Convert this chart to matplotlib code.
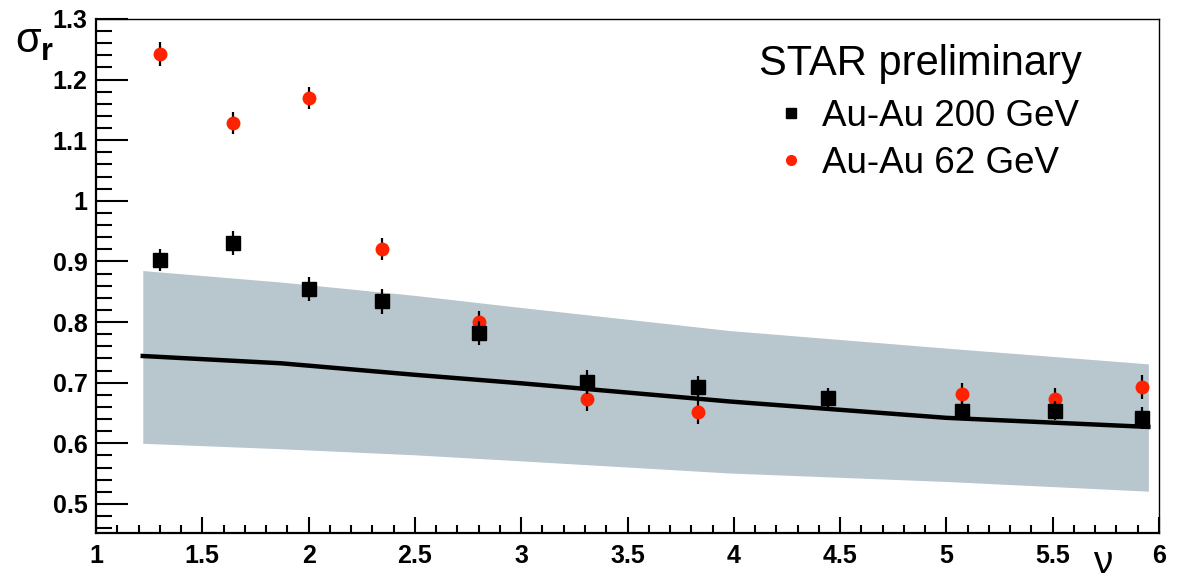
import numpy as np
import matplotlib.pyplot as plt
from matplotlib.ticker import MultipleLocator, FuncFormatter
from matplotlib.lines import Line2D

plt.rcParams['font.family'] = ['Liberation Sans', 'DejaVu Sans']

# measured points (nu, sigma_r, error)
nu = [1.30, 1.645, 2.0, 2.346, 2.80, 3.31, 3.83, 4.445, 5.075, 5.51, 5.92]
au200 = [0.903, 0.931, 0.854, 0.834, 0.782, 0.701, 0.693, 0.675, 0.654, 0.654, 0.642]
au200_err = [0.018, 0.02, 0.02, 0.02, 0.02, 0.02, 0.018, 0.016, 0.016, 0.016, 0.018]

nu62 = [1.30, 1.645, 2.0, 2.346, 2.80, 3.31, 3.83, 5.075, 5.51, 5.92]
au62 = [1.242, 1.129, 1.170, 0.921, 0.800, 0.673, 0.652, 0.681, 0.673, 0.693]
au62_err = [0.02, 0.018, 0.018, 0.018, 0.018, 0.02, 0.02, 0.018, 0.018, 0.02]

# model band and central curve
band_x = [1.22, 1.87, 2.5, 3.0, 3.98, 5.0, 5.95]
band_hi = [0.885, 0.866, 0.844, 0.824, 0.786, 0.757, 0.731]
band_lo = [0.600, 0.591, 0.581, 0.571, 0.551, 0.537, 0.521]
band_mid = [0.744, 0.732, 0.713, 0.699, 0.669, 0.642, 0.627]

fig = plt.figure(figsize=(11.8, 5.82), dpi=100)
ax = fig.add_axes([96/1180, 1-533/582, (1159-96)/1180, (533-19)/582])

ax.fill_between(band_x, band_lo, band_hi, color='#b8c6cd', lw=0, zorder=1)
ax.plot(band_x, band_mid, color='black', lw=3.2, zorder=2)

ax.errorbar(nu62, au62, yerr=au62_err, fmt='o', color='#ff2200', ms=9,
            ecolor='black', elinewidth=1.6, capsize=0, zorder=3)
ax.errorbar(nu, au200, yerr=au200_err, fmt='s', color='black', ms=10,
            ecolor='black', elinewidth=1.6, capsize=0, zorder=4)

ax.set_xlim(1, 6)
ax.set_ylim(0.452, 1.3)

ax.xaxis.set_major_locator(MultipleLocator(0.5))
ax.xaxis.set_minor_locator(MultipleLocator(0.1))
ax.yaxis.set_major_locator(MultipleLocator(0.1))
ax.yaxis.set_minor_locator(MultipleLocator(0.02))
fmt = FuncFormatter(lambda v, p: '%g' % round(v, 2))
ax.xaxis.set_major_formatter(fmt)
ax.yaxis.set_major_formatter(fmt)

ax.tick_params(axis='x', which='major', direction='in', length=11.5, width=1.5, pad=8)
ax.tick_params(axis='x', which='minor', direction='in', length=5.5, width=1.5)
ax.tick_params(axis='y', which='major', direction='in', length=23, width=1.5, pad=6)
ax.tick_params(axis='y', which='minor', direction='in', length=11.5, width=1.5)
for lab in ax.get_xticklabels() + ax.get_yticklabels():
    lab.set_fontweight('bold')
    lab.set_fontsize(18)

ax.spines['left'].set_linewidth(1.6)
ax.spines['bottom'].set_linewidth(1.6)
ax.spines['top'].set_linewidth(1.0)
ax.spines['right'].set_linewidth(1.0)

# axis titles
fig.text(15/1180, 1-52/582, 'σ', fontsize=30, ha='left', va='baseline')
fig.text(41/1180, 1-60/582, 'r', fontsize=22, fontweight='bold', ha='left', va='baseline')
fig.text(1093/1180, 1-581/582, 'ν', fontsize=28, ha='left', va='bottom')

# legend
fig.text(759/1180, 1-75/582, 'STAR preliminary', fontsize=30, ha='left', va='baseline')
handles = [Line2D([], [], ls='none', marker='s', color='black', ms=7),
           Line2D([], [], ls='none', marker='o', color='#ff2200', ms=7)]
ax.legend(handles, ['Au-Au 200 GeV', 'Au-Au 62 GeV'], loc='upper left',
          bbox_to_anchor=(780/1180, 1-99/582), bbox_transform=fig.transFigure,
          frameon=False, fontsize=26.5, handletextpad=0.54, labelspacing=0.32,
          handlelength=0.6, borderpad=0, borderaxespad=0)

fig.savefig('out.png', dpi=100)
